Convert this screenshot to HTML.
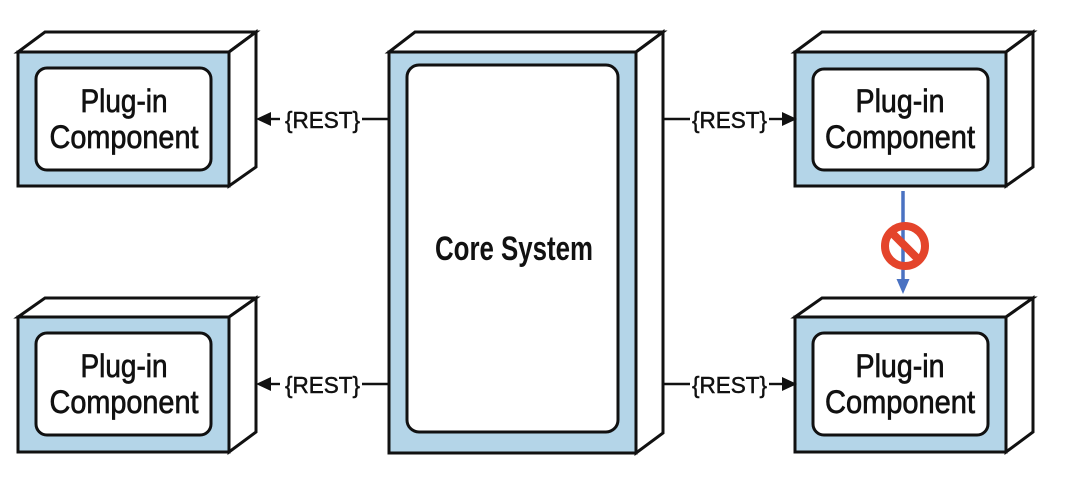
<!DOCTYPE html>
<html>
<head>
<meta charset="utf-8">
<style>
html,body{margin:0;padding:0;background:#fff;}
svg{display:block;}
text{font-family:"Liberation Sans",sans-serif;fill:#111;}
</style>
</head>
<body>
<svg width="1080" height="487" viewBox="0 0 1080 487" xmlns="http://www.w3.org/2000/svg">
<rect x="0" y="0" width="1080" height="487" fill="#fff"/>

<g stroke="#111" stroke-width="3" stroke-linejoin="miter">
  <!-- Left top box -->
  <polygon points="18,52 45,32 256,32 229,52" fill="#fff"/>
  <polygon points="229,52 256,32 256,167 229,186" fill="#fff"/>
  <rect x="18" y="52" width="211" height="134" fill="#b4d5e8"/>
  <rect x="36" y="68" width="175" height="102" rx="11" fill="#fff"/>

  <!-- Left bottom box -->
  <polygon points="18,317 45,298 256,298 229,317" fill="#fff"/>
  <polygon points="229,317 256,298 256,432 229,452" fill="#fff"/>
  <rect x="18" y="317" width="211" height="135" fill="#b4d5e8"/>
  <rect x="36" y="333" width="175" height="102" rx="11" fill="#fff"/>

  <!-- Core -->
  <polygon points="389,52 415,32 663,32 636,52" fill="#fff"/>
  <polygon points="636,52 663,32 663,433 636,453" fill="#fff"/>
  <rect x="389" y="52" width="247" height="401" fill="#b4d5e8"/>
  <rect x="407" y="65" width="211" height="367" rx="12" fill="#fff"/>

  <!-- Right top box -->
  <polygon points="795,52 822,32 1033,32 1006,52" fill="#fff"/>
  <polygon points="1006,52 1033,32 1033,167 1006,186" fill="#fff"/>
  <rect x="795" y="52" width="211" height="134" fill="#b4d5e8"/>
  <rect x="813" y="69" width="175" height="101" rx="11" fill="#fff"/>

  <!-- Right bottom box -->
  <polygon points="795,317 822,298 1033,298 1006,317" fill="#fff"/>
  <polygon points="1006,317 1033,298 1033,432 1006,452" fill="#fff"/>
  <rect x="795" y="317" width="211" height="135" fill="#b4d5e8"/>
  <rect x="813" y="333" width="175" height="102" rx="11" fill="#fff"/>
</g>

<!-- Connectors -->
<g stroke="#111" stroke-width="2.4">
  <line x1="268" y1="119" x2="280" y2="119"/>
  <line x1="362" y1="119" x2="389" y2="119"/>
  <line x1="268" y1="384" x2="280" y2="384"/>
  <line x1="362" y1="384" x2="389" y2="384"/>
  <line x1="663" y1="119" x2="690" y2="119"/>
  <line x1="769" y1="119" x2="784" y2="119"/>
  <line x1="663" y1="384" x2="690" y2="384"/>
  <line x1="769" y1="384" x2="784" y2="384"/>
</g>
<g fill="#111">
  <polygon points="256,119 271,112 271,126"/>
  <polygon points="256,384 271,377 271,391"/>
  <polygon points="797,119 782,112 782,126"/>
  <polygon points="797,384 782,377 782,391"/>
</g>

<g font-size="23" stroke="#111" stroke-width="0.5">
  <text x="285" y="128" textLength="75" lengthAdjust="spacingAndGlyphs">{REST}</text>
  <text x="285" y="393" textLength="75" lengthAdjust="spacingAndGlyphs">{REST}</text>
  <text x="692" y="128" textLength="75" lengthAdjust="spacingAndGlyphs">{REST}</text>
  <text x="692" y="393" textLength="75" lengthAdjust="spacingAndGlyphs">{REST}</text>
</g>

<!-- Box labels -->
<g font-size="32" text-anchor="middle" stroke="#111" stroke-width="0.7">
  <text x="124" y="112" textLength="87" lengthAdjust="spacingAndGlyphs">Plug-in</text>
  <text x="124" y="148" textLength="149" lengthAdjust="spacingAndGlyphs">Component</text>
  <text x="124" y="377" textLength="87" lengthAdjust="spacingAndGlyphs">Plug-in</text>
  <text x="124" y="413" textLength="149" lengthAdjust="spacingAndGlyphs">Component</text>
  <text x="900" y="112" textLength="89" lengthAdjust="spacingAndGlyphs">Plug-in</text>
  <text x="900" y="148" textLength="150" lengthAdjust="spacingAndGlyphs">Component</text>
  <text x="900" y="377" textLength="89" lengthAdjust="spacingAndGlyphs">Plug-in</text>
  <text x="900" y="413" textLength="150" lengthAdjust="spacingAndGlyphs">Component</text>
</g>
<text x="514" y="260" font-size="34" font-weight="bold" text-anchor="middle" textLength="158" lengthAdjust="spacingAndGlyphs">Core System</text>

<!-- Blue arrow with prohibition sign -->
<line x1="903" y1="191" x2="903" y2="281" stroke="#4a72c2" stroke-width="3.5"/>
<polygon points="903,294 896.5,279 909.5,279" fill="#4a72c2"/>
<g stroke="#e4442b" fill="none">
  <circle cx="905" cy="246" r="20" stroke-width="8"/>
  <line x1="891" y1="232" x2="919" y2="260" stroke-width="8"/>
</g>
</svg>
</body>
</html>
